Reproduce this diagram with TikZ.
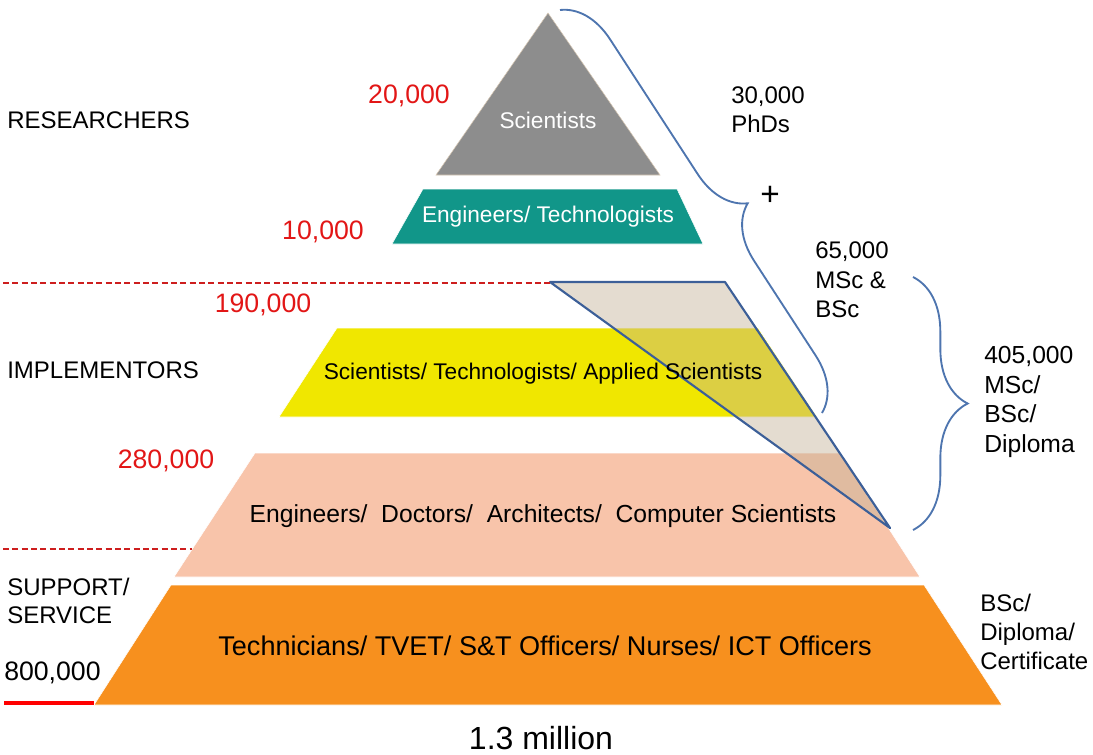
\documentclass[tikz,border=0pt]{standalone}
\usepackage{fontspec}
\setmainfont{Liberation Sans}
\usetikzlibrary{decorations.pathreplacing}
\definecolor{sGray}{RGB}{141,141,141}
\definecolor{sTeal}{RGB}{17,150,137}
\definecolor{sYellow}{RGB}{240,231,0}
\definecolor{sSalmon}{RGB}{248,196,170}
\definecolor{sOrange}{RGB}{247,144,30}
\definecolor{sCanvas}{RGB}{196,178,150}
\definecolor{nRed}{RGB}{226,22,22}
\definecolor{nBlue}{RGB}{78,117,175}
\definecolor{nEdge}{RGB}{60,95,152}
\tikzstyle{layer} = [draw=white, line width=0.4pt]
\tikzstyle{inlab} = [inner sep=0pt, font=\fontsize{17}{20}\selectfont]
\tikzstyle{num}   = [inner sep=0pt, text=nRed, font=\fontsize{20}{24}\selectfont]
\tikzstyle{lab}   = [anchor=west, align=left, inner sep=0pt, font=\fontsize{18}{21.5}\selectfont]
\tikzstyle{redcut}= [draw={rgb,255:red,205;green,30;blue,30}, dash pattern=on 4.5pt off 2.5pt, line width=1pt]
\tikzstyle{curly} = [draw=nBlue, line width=1.4pt, decorate]

\begin{document}
\begin{tikzpicture}[x=0.75pt, y=-0.75pt]
      \useasboundingbox (0,0) rectangle (1093,754);

      % pyramid layers
      \fill[sGray, draw={rgb,255:red,215;green,200;blue,180}, line width=0.4pt]
            (548,13) -- (660,175) -- (436,175) -- cycle;
      \fill[sTeal, layer]   (423,189) -- (677,189) -- (703,244) -- (392,244) -- cycle;
      \fill[sYellow, layer] (337,328) -- (758,328) -- (817,417) -- (279,417) -- cycle;
      \fill[sSalmon, layer] (255,453) -- (840,453) -- (920,577) -- (174,577) -- cycle;
      \fill[sOrange, layer] (171,585) -- (924,585) -- (1002,705) -- (94,705) -- cycle;

      % shaded wedge
      \fill[sCanvas, fill opacity=0.45] (550,282) -- (725,282) -- (890,528) -- cycle;
      \draw[nEdge, line width=1.6pt, line join=round] (550,282) -- (725,282) -- (890,528) -- cycle;

      % level cuts
      \draw[redcut] (3,283) -- (550,283);
      \draw[redcut] (3,549) -- (192,549);
      \draw[red, line width=3pt] (4,703) -- (94,703);

      % texts in the layers
      \node(Sci)  [inlab, text=white] at (548,120) {Scientists};
      \node(Eng)  [inlab, text=white] at (548,217) {Engineers/ Technologists};
      \node(App)  [inlab] at (543,374) {Scientists/ Technologists/ Applied Scientists};
      \node(Doc)  [inner sep=0pt, font=\fontsize{18.5}{22}\selectfont] at (543,516)
            {Engineers/\ \ Doctors/\ \ Architects/\ \ Computer Scientists};
      \node(Tech) [inner sep=0pt, font=\fontsize{20.3}{24}\selectfont] at (545,646)
            {Technicians/ TVET/ S\&T Officers/ Nurses/ ICT Officers};

      % level names
      \node(Res)  [lab] at (7,120) {RESEARCHERS};
      \node(Imp)  [lab] at (7,370) {IMPLEMENTORS};
      \node(Sup)  [lab] at (7,601) {SUPPORT/\\SERVICE};

      % counts
      \node(n20)  [num] at (409,96)  {20,000};
      \node(n10)  [num] at (323,232) {10,000};
      \node(n190) [num] at (263,305) {190,000};
      \node(n280) [num] at (166,461) {280,000};
      \node(n800) [num, text=black, anchor=west] at (4,673) {800,000};

      % degrees
      \node(PhD)  [lab] at (731,110) {30,000\\PhDs};
      \node(Plus) [inner sep=0pt, font=\fontsize{25}{26}\selectfont] at (770,196) {+};
      \node(MSc)  [lab, font=\fontsize{18}{22}\selectfont] at (815,280) {65,000\\MSc \&\\BSc};
      \node(Dip)  [lab, font=\fontsize{18.5}{22.3}\selectfont] at (984,402) {405,000\\MSc/\\BSc/\\Diploma};
      \node(Cert) [lab] at (980,632) {BSc/\\Diploma/\\Certificate};
      \node(Tot)  [inner sep=0pt, font=\fontsize{24}{28}\selectfont] at (541,738) {1.3 million};

      % braces
      \draw [curly, decoration={brace, amplitude=39pt, aspect=0.55}] (560,10)  -- (822,413);
      \draw [curly, decoration={brace, amplitude=41pt, aspect=0.5}]  (913,277) -- (913,530);
    \end{tikzpicture}
\end{document}
